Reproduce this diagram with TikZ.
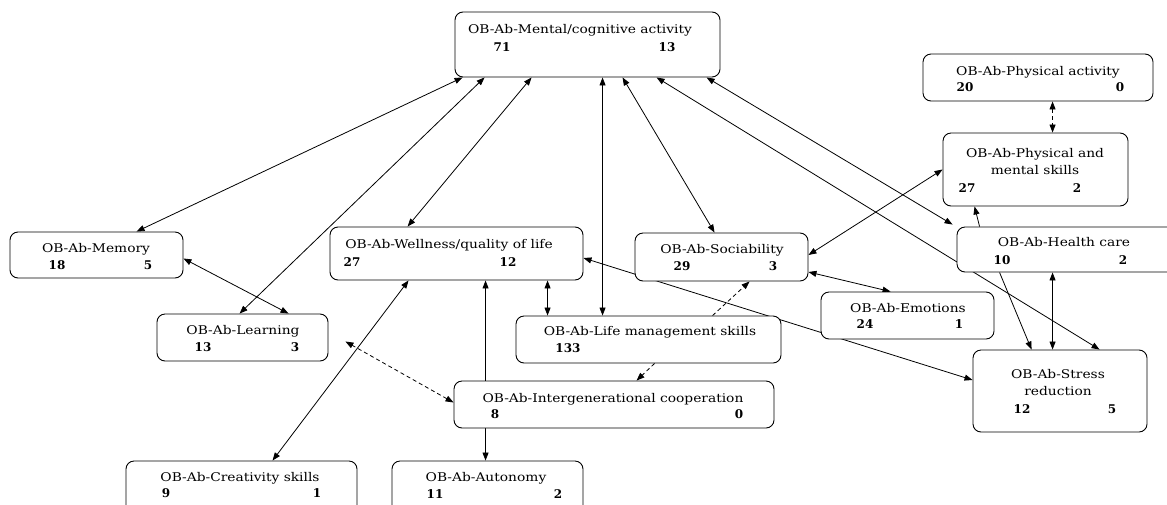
\documentclass[tikz,border=0pt]{standalone}
\usepackage{fontspec}
\newfontfamily\labelfont[FakeStretch=1.15]{DejaVu Serif}
\newfontfamily\countfont{DejaVu Serif}
\usetikzlibrary{arrows.meta,fit,calc}
\pgfdeclarelayer{background}
\pgfsetlayers{background,main}

\tikzset{
  box/.style={draw, rounded corners=8pt, fill=white, inner sep=0pt, line width=0.9pt},
  lbl/.style={font=\labelfont\fontsize{12}{14}\selectfont, inner sep=0pt, anchor=base},
  cnt/.style={font=\countfont\bfseries\fontsize{12}{14}\selectfont, inner sep=0pt, anchor=base},
  link/.style={line width=0.8pt, -{Triangle[length=8pt,width=6pt]}},
  both/.style={line width=0.8pt, {Triangle[length=8pt,width=6pt]}-{Triangle[length=8pt,width=6pt]}},
  dashlink/.style={link, dash pattern=on 4pt off 3pt},
  dashboth/.style={both, dash pattern=on 4pt off 3pt},
}

\begin{document}
\begin{tikzpicture}[x=1pt,y=-1pt]
\clip (0,0) rectangle (1167,504);

% boxes
\node[box, fit={(455,12) (720,77)}]    (ment)  {};
\node[box, fit={(923,54) (1153,101)}]  (phys)  {};
\node[box, fit={(943,133) (1128,206)}] (pm)    {};
\node[box, fit={(10,232) (183,278)}]   (mem)   {};
\node[box, fit={(330,227) (583,280)}]  (well)  {};
\node[box, fit={(635,233) (808,281)}]  (soc)   {};
\node[box, fit={(957,227) (1195,272)}] (hc)    {};
\node[box, fit={(821,292) (994,339)}]  (emo)   {};
\node[box, fit={(157,314) (328,361)}]  (lrn)   {};
\node[box, fit={(516,316) (781,363)}]  (life)  {};
\node[box, fit={(454,381) (774,428)}]  (inter) {};
\node[box, fit={(973,350) (1147,432)}] (str)   {};
\node[box, fit={(126,461) (357,520)}]  (cre)   {};
\node[box, fit={(392,461) (583,520)}]  (aut)   {};

% titles and counts
\node[lbl] (ment-t) at (580,33.5) {OB-Ab-Mental/cognitive activity};
\node[cnt] (ment-a) at (502,51.5) {71};
\node[cnt] (ment-b) at (667,51.5) {13};

\node[lbl] (phys-t) at (1038,75.5) {OB-Ab-Physical activity};
\node[cnt] (phys-a) at (965,91.5) {20};
\node[cnt] (phys-b) at (1120,91.5) {0};

\node[lbl] (pm-t1) at (1035,157.5) {OB-Ab-Physical and};
\node[lbl] (pm-t2) at (1035,174.5) {mental skills};
\node[cnt] (pm-a) at (967,192.5) {27};
\node[cnt] (pm-b) at (1077,192.5) {2};

\node[lbl] (mem-t) at (96,252.5) {OB-Ab-Memory};
\node[cnt] (mem-a) at (57,269.5) {18};
\node[cnt] (mem-b) at (148,269.5) {5};

\node[lbl] (lrn-t) at (243,334.5) {OB-Ab-Learning};
\node[cnt] (lrn-a) at (203,351.5) {13};
\node[cnt] (lrn-b) at (295,351.5) {3};

\node[lbl] (well-t) at (449,248.5) {OB-Ab-Wellness/quality of life};
\node[cnt] (well-a) at (352,266.5) {27};
\node[cnt] (well-b) at (508,266.5) {12};

\node[lbl] (soc-t) at (722,253.5) {OB-Ab-Sociability};
\node[cnt] (soc-a) at (682,270.5) {29};
\node[cnt] (soc-b) at (773,270.5) {3};

\node[lbl] (hc-t) at (1064,246.5) {OB-Ab-Health care};
\node[cnt] (hc-a) at (1002,264.5) {10};
\node[cnt] (hc-b) at (1123,264.5) {2};

\node[lbl] (emo-t) at (908,312.5) {OB-Ab-Emotions};
\node[cnt] (emo-a) at (865,328.5) {24};
\node[cnt] (emo-b) at (959,328.5) {1};

\node[lbl] (life-t) at (650,335.5) {OB-Ab-Life management skills};
\node[cnt] (life-a) at (568,352.5) {133};

\node[lbl] (inter-t) at (613,402.5) {OB-Ab-Intergenerational cooperation};
\node[cnt] (inter-a) at (495,418.5) {8};
\node[cnt] (inter-b) at (739,418.5) {0};

\node[lbl] (str-t1) at (1058,378.5) {OB-Ab-Stress};
\node[lbl] (str-t2) at (1058,395.5) {reduction};
\node[cnt] (str-a) at (1022,413.5) {12};
\node[cnt] (str-b) at (1112,413.5) {5};

\node[lbl] (cre-t) at (240,481.5) {OB-Ab-Creativity skills};
\node[cnt] (cre-a) at (166,497.5) {9};
\node[cnt] (cre-b) at (317,497.5) {1};

\node[lbl] (aut-t) at (486,481.5) {OB-Ab-Autonomy};
\node[cnt] (aut-a) at (435,498.5) {11};
\node[cnt] (aut-b) at (558,498.5) {2};

% connectors, kept beneath the boxes
\begin{pgfonlayer}{background}
\draw[both] ([xshift=8pt]ment.south west)   -- ([xshift=127pt]mem.north west);
\draw[both] ([xshift=30pt]ment.south west)  -- ([xshift=83pt]lrn.north west);
\draw[both] ([xshift=77pt]ment.south west)  -- ([xshift=78pt]well.north west);
\draw[both] ([xshift=148pt]ment.south west) -- ([xshift=87pt]life.north west);
\draw[both] ([xshift=168pt]ment.south west) -- ([xshift=80pt]soc.north west);
\draw[both] ([xshift=202pt]ment.south west) -- ([xshift=127pt]str.north west);
\draw[both] ([xshift=252pt]ment.south west) -- ([xshift=-4pt,yshift=2pt]hc.north west);

\draw[dashboth] ([xshift=130pt]phys.south west) -- ([xshift=110pt]pm.north west);
\draw[link] ([xshift=23pt]hc.north west) -- ([xshift=32pt]pm.south west);
\draw[both] (pm.west) -- ([yshift=2pt]soc.east);
\draw[both] ([yshift=-15pt]soc.east) -- ([xshift=70pt]emo.north west);
\draw[both] ([xshift=96pt]hc.south west) -- ([xshift=80pt]str.north west);
\draw[link] ([xshift=43pt]hc.south west) -- ([xshift=59pt]str.north west);

\draw[both] ([xshift=218pt]well.south west) -- ([xshift=32pt]life.north west);
\draw[link] ([xshift=32pt]inter.north west) -- ([xshift=156pt]well.south west);
\draw[dashlink] ([xshift=197pt]life.north west) -- ([xshift=115pt]soc.south west);
\draw[dashlink] ([xshift=139pt]life.south west) -- ([xshift=183pt]inter.north west);
\draw[dashboth] ([yshift=2pt]inter.west) -- ([xshift=17pt,yshift=-4pt]lrn.east);
\draw[both] ([xshift=79pt]well.south west) -- ([xshift=147pt]cre.north west);
\draw[link] ([xshift=32pt]inter.south west) -- ([xshift=94pt]aut.north west);
\draw[both] ([yshift=-3.5pt]mem.east) -- ([xshift=132pt]lrn.north west);
\draw[both] ([yshift=-4.5pt]well.east) -- ([yshift=11pt]str.west);
\end{pgfonlayer}
\end{tikzpicture}
\end{document}
